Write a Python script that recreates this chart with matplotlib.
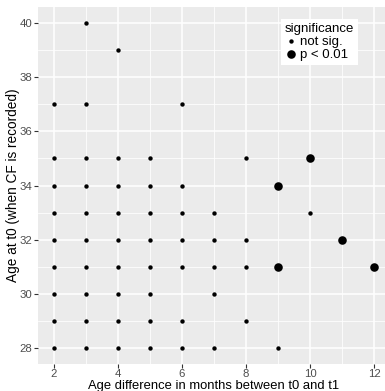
import matplotlib
matplotlib.use("Agg")
import matplotlib.pyplot as plt
from matplotlib.ticker import MultipleLocator

# months between t0 and t1, age at t0, significant flag
age_diff = [2, 2, 2, 2, 2, 2, 2, 2, 2,
            3, 3, 3, 3, 3, 3, 3, 3, 3, 3,
            4, 4, 4, 4, 4, 4, 4, 4, 4,
            5, 5, 5, 5, 5, 5, 5, 5,
            6, 6, 6, 6, 6, 6, 6,
            7, 7, 7, 7, 7,
            8, 8, 8, 8,
            9, 9, 9,
            10, 10,
            11,
            12]
age_t0 = [37, 35, 34, 33, 32, 31, 30, 29, 28,
          40, 37, 35, 34, 33, 32, 31, 30, 29, 28,
          39, 35, 34, 33, 32, 31, 30, 29, 28,
          35, 34, 33, 32, 31, 30, 29, 28,
          37, 34, 33, 32, 31, 29, 28,
          33, 32, 31, 30, 28,
          35, 32, 31, 29,
          34, 31, 28,
          35, 33,
          32,
          31]
significant = [0] * 52 + [1, 1, 0, 1, 0, 1, 1]

plt.rcParams['font.family'] = ['Liberation Sans', 'DejaVu Sans']

fig = plt.figure(figsize=(3.85, 3.91), dpi=100)
W, H = 385, 391
ax = fig.add_axes([38 / W, 1 - 364 / H, 352 / W, 357 / H])
ax.set_facecolor('#EBEBEB')

xs0 = [x for x, s in zip(age_diff, significant) if not s]
ys0 = [y for y, s in zip(age_t0, significant) if not s]
xs1 = [x for x, s in zip(age_diff, significant) if s]
ys1 = [y for y, s in zip(age_t0, significant) if s]
ax.scatter(xs0, ys0, s=10, color='black', linewidths=0, label='not sig.', zorder=3)
ax.scatter(xs1, ys1, s=38, color='black', linewidths=0, label='p < 0.01', zorder=3)

ax.set_xlim(1.5, 12.5)
ax.set_ylim(27.4, 40.6)
ax.xaxis.set_major_locator(MultipleLocator(2))
ax.xaxis.set_minor_locator(MultipleLocator(1))
ax.yaxis.set_major_locator(MultipleLocator(2))
ax.yaxis.set_minor_locator(MultipleLocator(1))
ax.grid(which='major', color='white', linewidth=1.1)
ax.grid(which='minor', color='white', linewidth=0.55)
ax.set_axisbelow(True)
for sp in ax.spines.values():
    sp.set_visible(False)
ax.tick_params(which='major', length=2.7, width=0.8, color='#333333',
               labelcolor='#4D4D4D', labelsize=8.2, pad=1.2)
ax.tick_params(which='minor', length=0)

ax.set_xlabel('Age difference in months between t0 and t1', fontsize=9.4)
ax.set_ylabel('Age at t0 (when CF is recorded)', fontsize=9.8)
ax.xaxis.set_label_coords(0.5, -0.045)
ax.yaxis.set_label_coords(-0.052, 0.5)

leg = ax.legend(title='significance', loc='upper right',
                bbox_to_anchor=((358 - 38) / 352, (364 - 19) / 357),
                borderaxespad=0, fontsize=9.5, title_fontsize=9.5,
                frameon=True, fancybox=False, handletextpad=0.2,
                handlelength=1.0, borderpad=0.3, labelspacing=0.05,
                markerscale=1.0)
leg.get_frame().set_edgecolor('none')
leg.get_frame().set_facecolor('white')
leg.get_frame().set_alpha(1)
leg._legend_box.align = 'left'

fig.savefig('out.png', dpi=100)
